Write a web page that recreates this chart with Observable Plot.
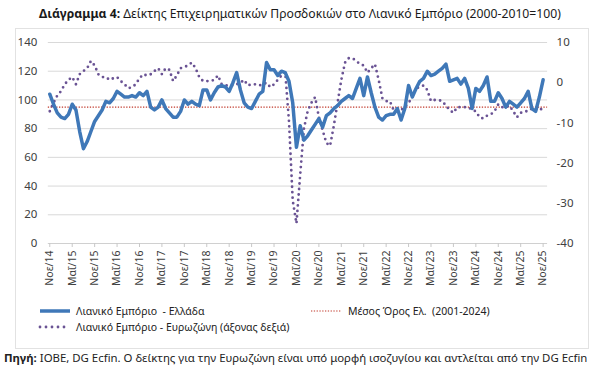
<!DOCTYPE html>
<html><head><meta charset="utf-8">
<script src="https://cdn.jsdelivr.net/npm/d3@7"></script>
<script src="https://cdn.jsdelivr.net/npm/@observablehq/plot@0.6"></script>
<style>
body{margin:0;background:#fff;}
#wrap{position:relative;width:600px;height:379px;font-family:"Noto Sans",sans-serif;color:#1a1a1a;overflow:hidden;background:#fff}
#title{position:absolute;top:5px;left:0;width:600px;text-align:center;font-size:12.2px;white-space:nowrap}
#boxsvg{position:absolute;left:0;top:0}
#chart{position:absolute;left:0;top:28px}
.leg{position:absolute;font-size:10.5px;white-space:nowrap;display:flex;align-items:center;color:#222}
.leg svg{margin-right:6px}
#source{position:absolute;left:4px;top:350px;font-size:11.4px;white-space:nowrap;color:#222}
</style></head>
<body><div id="wrap">
<svg id="boxsvg" width="600" height="379"><rect x="15.5" y="28.5" width="573" height="320" fill="none" stroke="#e2e2e2"/></svg>
<div id="title"><b>Διάγραμμα 4:</b> Δείκτης Επιχειρηματικών Προσδοκιών στο Λιανικό Εμπόριο (2000-2010=100)</div>
<div id="chart"></div>
<div class="leg" style="left:40px;top:304px"><svg width="30" height="8"><line x1="0" y1="4" x2="30" y2="4" stroke="#3f78b8" stroke-width="3.5"/></svg>Λιανικό Εμπόριο &nbsp;- Ελλάδα</div>
<div class="leg" style="left:310px;top:304px"><svg width="32" height="8"><line x1="1" y1="4" x2="31" y2="4" stroke="#c0392b" stroke-width="1.2" stroke-dasharray="1.3,1.5"/></svg>Μέσος Όρος Ελ. &nbsp;(2001-2024)</div>
<div class="leg" style="left:38px;top:320px"><svg width="32" height="8"><line x1="2" y1="4" x2="30" y2="4" stroke="#6a5394" stroke-width="2.8" stroke-linecap="round" stroke-dasharray="0,6"/></svg>Λιανικό Εμπόριο - Ευρωζώνη (άξονας δεξιά)</div>
<div id="source"><b>Πηγή:</b> ΙΟΒΕ, DG Ecfin. Ο δείκτης για την Ευρωζώνη είναι υπό μορφή ισοζυγίου και αντλείται από την DG Ecfin</div>
</div>
<script>
// Greece retail confidence index (left axis), monthly Nov 2014 - Nov 2025
const greece = [
 104, 97, 91, 88, 87, 90, 97, 93, 78, 66, 71, 78,
 85, 89, 93, 99, 98, 101, 106, 104, 102, 102, 103, 102,
 105, 103, 106, 95, 93, 95, 100, 94, 91, 88, 88, 92,
 100, 97, 99, 97, 96, 107, 107, 100, 105, 109, 110, 109,
 106, 112, 119, 107, 98, 95, 94, 99, 104, 106, 126, 121,
 121, 117, 120, 119, 113, 98, 67, 82, 72, 75, 79, 83,
 87, 81, 89, 91, 94, 96, 99, 101, 103, 101, 108, 115,
 103, 116, 105, 95, 88, 86, 89, 90, 90, 94, 86, 94,
 110, 102, 108, 113, 115, 120, 117, 118, 120, 122, 125, 113,
 114, 115, 111, 115, 108, 94, 108, 106, 110, 116, 99, 99,
 105, 101, 95, 99, 97, 95, 98, 101, 106, 94, 92, 102,
 114
];
// Eurozone retail confidence balance (right axis)
const eurozone = [
 -7.1, -5.0, -3.2, -2.1, -0.4, 0.7, 1.4, -0.4, 2.1, 2.9, 3.6, 5.4,
 4.3, 2.1, 1.4, 1.4, 0.7, 1.1, 1.4, 0.4, -0.4, -1.4, -1.1, -0.4,
 1.1, 2.1, 1.8, 2.1, 2.9, 3.6, 2.1, 3.6, 3.2, 0.4, 1.8, 3.6,
 3.9, 4.3, 5.0, 3.6, 1.4, 0.4, 0.4, 0.4, 0.7, 1.8, -0.4, -0.7,
 -0.7, -0.7, -0.4, 0.0, 0.7, -0.7, -0.4, -0.4, -0.7, -0.4, 0.0, -1.1,
 -0.4, 0.7, 1.8, 2.6, -9.6, -29.3, -35.0, -22.9, -11.4, -7.1, -5.0, -3.6,
 -8.6, -11.8, -15.0, -15.7, -10.7, -5.0, 0.7, 5.0, 6.1, 6.1, 5.4, 4.6,
 4.3, 2.5, 3.6, 4.6, 0.7, -3.9, -4.6, -4.6, -6.8, -7.1, -6.8, -6.1,
 -5.0, -3.6, -1.4, -1.1, -0.7, -1.8, -4.6, -4.3, -4.3, -4.6, -5.7, -6.8,
 -7.5, -6.1, -6.1, -6.1, -6.1, -6.8, -7.1, -8.6, -8.9, -8.2, -7.9, -7.1,
 -5.4, -6.1, -6.1, -5.7, -7.1, -8.6, -7.5, -7.1, -7.1, -6.4, -6.8, -6.4,
 -6.8
];
const meanGreece = 95;
const xTickLabels = ["Νοε/14","Μαΐ/15","Νοε/15","Μαΐ/16","Νοε/16","Μαΐ/17","Νοε/17","Μαΐ/18","Νοε/18","Μαΐ/19","Νοε/19","Μαΐ/20","Νοε/20","Μαΐ/21","Νοε/21","Μαΐ/22","Νοε/22","Μαΐ/23","Νοε/23","Μαΐ/24","Νοε/24","Μαΐ/25","Νοε/25"];
const leftTicks = [0, 20, 40, 60, 80, 100, 120, 140];
const rightTicks = [-40, -30, -20, -10, 0, 10];

const rightMin = -40, rightMax = 10, leftMax = 140;
const toLeft = r => (r - rightMin) * leftMax / (rightMax - rightMin);
const rows = greece.map((g, i) => ({i, g, ez: toLeft(eurozone[i])}));
const tickIdx = xTickLabels.map((_, k) => k * 6);

const chart = Plot.plot({
  width: 600, height: 265,
  marginTop: 14, marginBottom: 50, marginLeft: 47.8, marginRight: 52.9,
  style: {fontFamily: "Noto Sans, sans-serif", fontSize: "11px", color: "#404040", background: "transparent"},
  x: {domain: [-0.4, 133.2], axis: null, label: null},
  y: {domain: [0, 140], axis: null, label: null},
  marks: [
    Plot.gridY(leftTicks.slice(1), {stroke: "#d9d9d9", strokeOpacity: 1}),
    Plot.ruleY([0], {stroke: "#d0d0d0"}),
    Plot.axisX(tickIdx, {label: null, tickSize: 4, tickRotate: -90, tickPadding: 3, stroke: "#c8c8c8", fontSize: 10.5, tickFormat: d => xTickLabels[d / 6]}),
    Plot.axisY(leftTicks, {label: null, anchor: "left", tickSize: 0, tickPadding: 11, fontSize: 11.5}),
    Plot.axisY(rightTicks.map(toLeft), {label: null, anchor: "right", tickSize: 0, tickPadding: 9, fontSize: 11.5,
      tickFormat: d => String(Math.round(d * (rightMax - rightMin) / leftMax + rightMin))}),
    Plot.ruleY([meanGreece], {stroke: "#c0392b", strokeWidth: 1.2, strokeDasharray: "1.3,1.5"}),
    Plot.line(rows, {x: "i", y: "ez", stroke: "#6a5394", strokeWidth: 2.8, strokeDasharray: "0,5.5", strokeLinecap: "round"}),
    Plot.line(rows, {x: "i", y: "g", stroke: "#3f78b8", strokeWidth: 3.5, strokeLinejoin: "round"})
  ]
});
document.getElementById("chart").appendChild(chart);
</script>
</body></html>
